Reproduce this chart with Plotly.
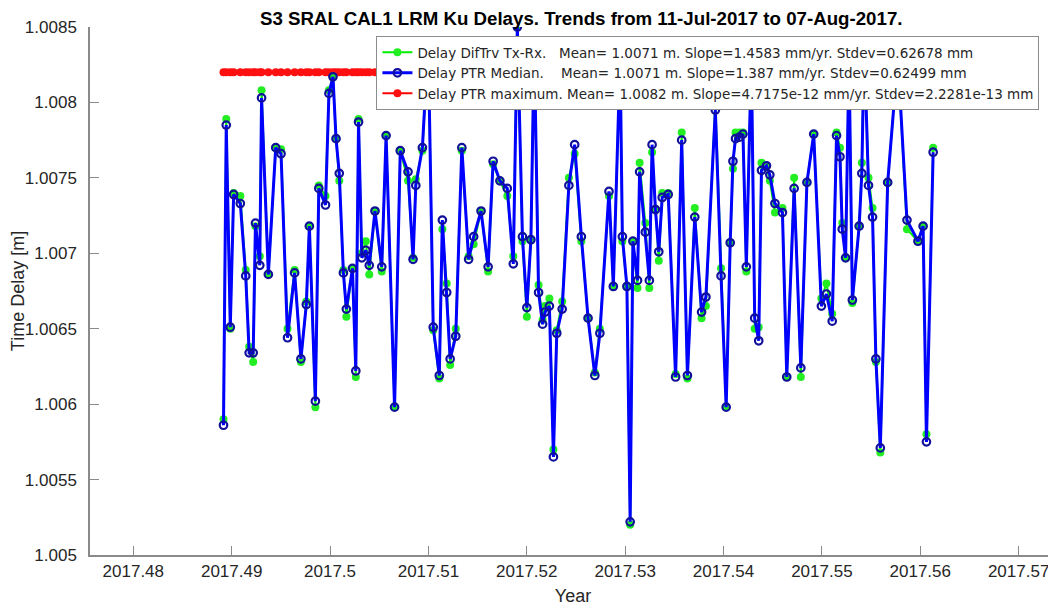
import plotly.graph_objects as go

# ---- data ----
years = [
    2017.48917, 2017.48945, 2017.48986, 2017.49020, 2017.49088, 2017.49143, 2017.49178, 2017.49219,
    2017.49242, 2017.49286, 2017.49304, 2017.49373, 2017.49448, 2017.49502, 2017.49568, 2017.49640,
    2017.49704, 2017.49759, 2017.49790, 2017.49851, 2017.49886, 2017.49954, 2017.49989, 2017.50030,
    2017.50061, 2017.50094, 2017.50136, 2017.50166, 2017.50228, 2017.50262, 2017.50290, 2017.50323,
    2017.50364, 2017.50399, 2017.50457, 2017.50526, 2017.50570, 2017.50656, 2017.50714, 2017.50793,
    2017.50844, 2017.50872, 2017.50939, 2017.50998, 2017.51049, 2017.51111, 2017.51142, 2017.51186,
    2017.51221, 2017.51278, 2017.51340, 2017.51409, 2017.51460, 2017.51535, 2017.51607, 2017.51658,
    2017.51727, 2017.51802, 2017.51863, 2017.51904, 2017.51956, 2017.52001, 2017.52042, 2017.52076,
    2017.52120, 2017.52161, 2017.52186, 2017.52230, 2017.52271, 2017.52305, 2017.52360, 2017.52428,
    2017.52487, 2017.52555, 2017.52623, 2017.52692, 2017.52743, 2017.52836, 2017.52880, 2017.52949,
    2017.52972, 2017.53018, 2017.53051, 2017.53079, 2017.53126, 2017.53147, 2017.53205, 2017.53246,
    2017.53274, 2017.53308, 2017.53342, 2017.53377, 2017.53438, 2017.53513, 2017.53575, 2017.53633,
    2017.53708, 2017.53777, 2017.53821, 2017.53917, 2017.53975, 2017.54027, 2017.54068, 2017.54096,
    2017.54122, 2017.54163, 2017.54198, 2017.54232, 2017.54283, 2017.54317, 2017.54358, 2017.54386,
    2017.54437, 2017.54471, 2017.54523, 2017.54599, 2017.54643, 2017.54718, 2017.54786, 2017.54848,
    2017.54917, 2017.54995, 2017.55046, 2017.55105, 2017.55149, 2017.55184, 2017.55207, 2017.55241,
    2017.55276, 2017.55310, 2017.55379, 2017.55406, 2017.55430, 2017.55474, 2017.55515, 2017.55549,
    2017.55594, 2017.55669, 2017.55772, 2017.55865, 2017.55977, 2017.56029, 2017.56063, 2017.56131,
]

delay_ptr_median = [
    1.00586, 1.00785, 1.00651, 1.00739, 1.00733, 1.00685, 1.00634, 1.00634,
    1.00720, 1.00692, 1.00803, 1.00686, 1.00770, 1.00766, 1.00644, 1.00687,
    1.00630, 1.00666, 1.00718, 1.00602, 1.00743, 1.00732, 1.00806, 1.00817,
    1.00776, 1.00753, 1.00687, 1.00663, 1.00690, 1.00622, 1.00787, 1.00697,
    1.00702, 1.00692, 1.00728, 1.00691, 1.00778, 1.00598, 1.00768, 1.00754,
    1.00696, 1.00745, 1.00770, 1.00840, 1.00651, 1.00619, 1.00722, 1.00674,
    1.00630, 1.00645, 1.00770, 1.00696, 1.00711, 1.00728, 1.00691, 1.00761,
    1.00748, 1.00743, 1.00693, 1.00850, 1.00711, 1.00664, 1.00709, 1.00840,
    1.00674, 1.00653, 1.00661, 1.00665, 1.00565, 1.00647, 1.00663, 1.00745,
    1.00772, 1.00711, 1.00657, 1.00619, 1.00647, 1.00741, 1.00678, 1.00830,
    1.00711, 1.00678, 1.00522, 1.00708, 1.00682, 1.00754, 1.00714, 1.00682,
    1.00772, 1.00729, 1.00701, 1.00737, 1.00739, 1.00618, 1.00775, 1.00619,
    1.00724, 1.00661, 1.00671, 1.00795, 1.00685, 1.00598, 1.00707, 1.00761,
    1.00776, 1.00777, 1.00779, 1.00691, 1.00830, 1.00657, 1.00642, 1.00755,
    1.00758, 1.00752, 1.00733, 1.00727, 1.00618, 1.00743, 1.00624, 1.00747,
    1.00779, 1.00665, 1.00673, 1.00655, 1.00778, 1.00764, 1.00716, 1.00697,
    1.00830, 1.00669, 1.00718, 1.00753, 1.00840, 1.00745, 1.00724, 1.00630,
    1.00571, 1.00747, 1.00830, 1.00722, 1.00708, 1.00718, 1.00575, 1.00767,
]

delay_diftrv = [
    1.00590, 1.00789, 1.00650, 1.00740, 1.00738, 1.00689, 1.00638, 1.00628,
    1.00718, 1.00698, 1.00808, 1.00686, 1.00770, 1.00769, 1.00650, 1.00689,
    1.00628, 1.00668, 1.00718, 1.00598, 1.00745, 1.00738, 1.00808, 1.00817,
    1.00776, 1.00748, 1.00689, 1.00658, 1.00690, 1.00618, 1.00789, 1.00700,
    1.00708, 1.00686, 1.00728, 1.00688, 1.00778, 1.00598, 1.00768, 1.00748,
    1.00697, 1.00749, 1.00768, 1.00840, 1.00649, 1.00617, 1.00716, 1.00680,
    1.00626, 1.00650, 1.00768, 1.00698, 1.00706, 1.00728, 1.00688, 1.00759,
    1.00748, 1.00738, 1.00698, 1.00850, 1.00708, 1.00658, 1.00709, 1.00840,
    1.00679, 1.00656, 1.00665, 1.00670, 1.00570, 1.00649, 1.00668, 1.00750,
    1.00766, 1.00708, 1.00657, 1.00621, 1.00650, 1.00738, 1.00678, 1.00830,
    1.00708, 1.00678, 1.00520, 1.00708, 1.00677, 1.00760, 1.00720, 1.00677,
    1.00767, 1.00729, 1.00695, 1.00740, 1.00740, 1.00620, 1.00780, 1.00617,
    1.00730, 1.00657, 1.00665, 1.00800, 1.00690, 1.00598, 1.00707, 1.00756,
    1.00780, 1.00780, 1.00780, 1.00688, 1.00830, 1.00650, 1.00651, 1.00760,
    1.00758, 1.00748, 1.00727, 1.00730, 1.00618, 1.00750, 1.00618, 1.00747,
    1.00779, 1.00670, 1.00680, 1.00660, 1.00780, 1.00770, 1.00720, 1.00697,
    1.00830, 1.00667, 1.00718, 1.00760, 1.00840, 1.00750, 1.00730, 1.00628,
    1.00568, 1.00747, 1.00830, 1.00716, 1.00708, 1.00718, 1.00580, 1.00770,
]

delay_ptr_maximum = [1.00820] * len(years)

x_ticks = [2017.48, 2017.49, 2017.50, 2017.51, 2017.52, 2017.53, 2017.54, 2017.55, 2017.56, 2017.57]
x_tick_labels = ["2017.48", "2017.49", "2017.5", "2017.51", "2017.52", "2017.53",
                 "2017.54", "2017.55", "2017.56", "2017.57"]
y_ticks = [1.005, 1.0055, 1.006, 1.0065, 1.007, 1.0075, 1.008, 1.0085]
y_tick_labels = ["1.005", "1.0055", "1.006", "1.0065", "1.007", "1.0075", "1.008", "1.0085"]

name_green = "Delay DifTrv Tx-Rx.&nbsp;&nbsp;&nbsp;Mean= 1.0071 m. Slope=1.4583 mm/yr. Stdev=0.62678 mm"
name_blue = "Delay PTR Median.&nbsp;&nbsp;&nbsp;&nbsp;Mean= 1.0071 m. Slope=1.387 mm/yr. Stdev=0.62499 mm"
name_red = "Delay PTR maximum. Mean= 1.0082 m. Slope=4.7175e-12 mm/yr. Stdev=2.2281e-13 mm"

FONT = "Liberation Sans, Arial, Helvetica, sans-serif"
LEG_FONT = "DejaVu Sans, Liberation Sans, Arial, sans-serif"
TXT = "#262626"

fig = go.Figure()

fig.add_trace(go.Scatter(
    x=years, y=delay_ptr_maximum, mode="lines+markers", name=name_red, legendrank=3,
    line=dict(color="#ff0000", width=2),
    marker=dict(symbol="circle", size=8, color="#ff1010", line=dict(width=0)),
))
fig.add_trace(go.Scatter(
    x=years, y=delay_diftrv, mode="lines+markers", name=name_green, legendrank=1,
    line=dict(color="#00ee00", width=2),
    marker=dict(symbol="circle", size=8, color="#22ee22", line=dict(width=0)),
))
fig.add_trace(go.Scatter(
    x=years, y=delay_ptr_median, mode="lines+markers", name=name_blue, legendrank=2,
    line=dict(color="#0000ff", width=3),
    marker=dict(symbol="circle-open", size=7.5, color="#10109a", line=dict(width=2.2, color="#10109a")),
))

# the page body has an 8px default margin; figure is sized/margined to compensate
fig.update_layout(
    width=1048, height=599,
    paper_bgcolor="white", plot_bgcolor="white",
    margin=dict(l=82, r=0, t=19, b=52, autoexpand=False),
    font=dict(family=FONT, size=17, color=TXT),
    title=dict(
        text="<b>S3 SRAL CAL1 LRM Ku Delays. Trends from 11-Jul-2017 to 07-Aug-2017.</b>",
        xref="container", x=0.547, xanchor="center",
        yref="container", y=0.983, yanchor="middle",
        font=dict(family=FONT, size=18.7, color="#000000"),
    ),
    showlegend=True,
    legend=dict(
        x=0.2965, xanchor="left", y=0.983, yanchor="top",
        bgcolor="white", bordercolor="#8c8c8c", borderwidth=1,
        font=dict(family=LEG_FONT, size=13.5, color=TXT),
        itemwidth=30, tracegroupgap=0,
    ),
    xaxis=dict(
        range=[2017.4756, 2017.5738],
        tickmode="array", tickvals=x_ticks, ticktext=x_tick_labels,
        ticks="inside", ticklen=9, tickcolor="#8a8a8a", tickwidth=1,
        showline=True, linecolor="#8a8a8a", linewidth=1.5,
        showgrid=False, zeroline=False, automargin=False,
        title=dict(text="Year", font=dict(size=18, color=TXT), standoff=9),
        tickfont=dict(size=17, color=TXT),
    ),
    yaxis=dict(
        range=[1.005, 1.0085],
        tickmode="array", tickvals=y_ticks, ticktext=y_tick_labels,
        ticks="inside", ticklen=9, tickcolor="#8a8a8a", tickwidth=1,
        showline=True, linecolor="#8a8a8a", linewidth=1.5,
        showgrid=False, zeroline=False, automargin=False,
        ticklabelstandoff=8,
        title=dict(text="Time Delay [m]", font=dict(size=18, color=TXT), standoff=6),
        tickfont=dict(size=17, color=TXT),
    ),
)

fig.write_html("out.html")
